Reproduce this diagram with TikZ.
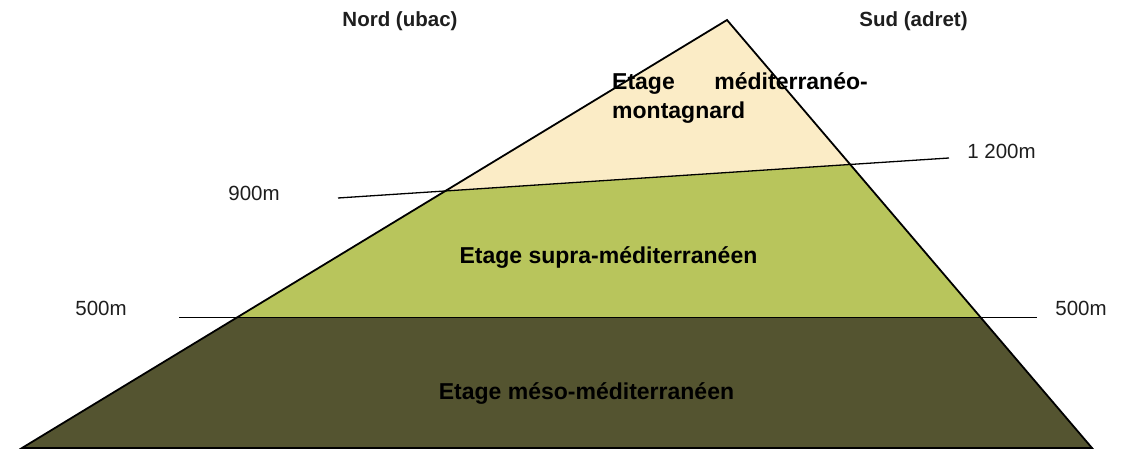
\documentclass[tikz,border=0pt]{standalone}
\usepackage{fontspec}
\setmainfont{Liberation Sans}
\definecolor{cream}{RGB}{251,236,198}
\definecolor{supra}{RGB}{184,197,92}
\definecolor{meso}{RGB}{84,84,48}
\definecolor{ink}{RGB}{30,30,30}
\begin{document}
\begin{tikzpicture}[x=1pt,y=-1pt,
  edge/.style={draw=black,line width=1.8pt,line join=miter},
  level/.style={draw=black,line width=1.3pt},
  alt/.style={font=\fontsize{20.5}{24}\selectfont,text=ink,inner sep=0pt,anchor=base},
  head/.style={font=\fontsize{20.5}{24}\selectfont\bfseries,text=ink,inner sep=0pt,anchor=base},
  zone/.style={font=\fontsize{23}{28}\selectfont\bfseries,text=black,inner sep=0pt,anchor=base}]
\useasboundingbox (0,0) rectangle (1140,454);
% main points
\coordinate (apex) at (727,20);
\coordinate (bl) at (22,448);
\coordinate (br) at (1092,448);
\coordinate (l5) at (179,317.5);
\coordinate (r5) at (1037,317.5);
\coordinate (l9) at (338,198);
\coordinate (r12) at (949,158);
\coordinate (a5) at (intersection of bl--apex and l5--r5);
\coordinate (b5) at (intersection of br--apex and l5--r5);
\coordinate (a9) at (intersection of bl--apex and l9--r12);
\coordinate (b12) at (intersection of br--apex and l9--r12);
% fills
\fill[meso] (bl) -- (a5) -- (b5) -- (br) -- cycle;
\fill[supra] (a5) -- (a9) -- (b12) -- (b5) -- cycle;
\fill[cream] (a9) -- (apex) -- (b12) -- cycle;
% outlines
\draw[edge] (bl) -- (apex) -- (br) -- cycle;
\draw[level] (l5) -- (r5);
\draw[level] (l9) -- (r12);
% headings
\node[head] (nord) at (400,27) {Nord (ubac)};
\node[head] (sud) at (913.5,27) {Sud (adret)};
% altitude labels
\node[alt] (t900) at (254,201) {900m};
\node[alt] (t1200) at (1001.5,159) {1 200m};
\node[alt] (t500l) at (101,315) {500m};
\node[alt] (t500r) at (1081,316) {500m};
% zone labels
\node[zone,anchor=base west] (z1a) at (612,90) {Etage};
\node[zone,anchor=base east] (z1b) at (868,90) {méditerranéo-};
\node[zone,anchor=base west] (z1c) at (612,119) {montagnard};
\node[zone] (z2) at (608.5,264) {Etage supra-méditerranéen};
\node[zone] (z3) at (586.5,399.5) {Etage méso-méditerranéen};
\end{tikzpicture}
\end{document}
